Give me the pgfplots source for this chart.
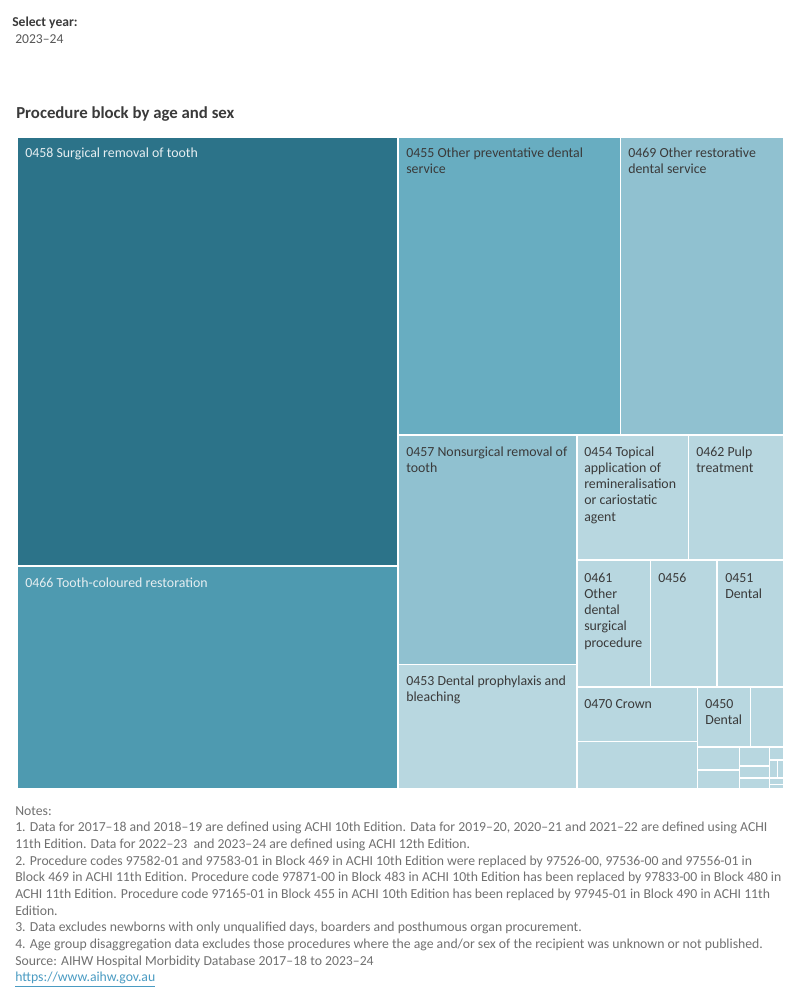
\documentclass[border=0pt]{standalone}
\usepackage{pgfplots}
\pgfplotsset{compat=1.18}
\usepackage{fontspec}
\setmainfont{Carlito}

\definecolor{tealA}{HTML}{2C7389}
\definecolor{tealB}{HTML}{4E9AB0}
\definecolor{tealC}{HTML}{68ADC1}
\definecolor{tealD}{HTML}{90C1D0}
\definecolor{tealE}{HTML}{B8D7E0}
\definecolor{labdark}{HTML}{3A3A3A}
\definecolor{lablight}{HTML}{E6EEF1}
\definecolor{notegrey}{HTML}{707070}
\definecolor{linkblue}{HTML}{4A9BC2}

% one treemap tile: x0, y0, x1, y1, fill colour
\newcommand{\tile}[5]{%
  \addplot[fill=#5, draw=white, line width=1.1pt] coordinates {(#1,#2) (#3,#2) (#3,#4) (#1,#4)} -- cycle;}
\newcommand{\boxfont}{\fontsize{10.4pt}{12.2pt}\selectfont}
% multi-line label whose baseline is that of its first line
\newcommand{\lab}[1]{\begin{tabular}[t]{@{}l@{}}#1\end{tabular}}

\begin{document}
\begin{tikzpicture}[x=0.75pt,y=-0.75pt]
\path (0,0) rectangle (800,1000);

\node[anchor=base west, inner sep=0, text=labdark, font=\fontsize{10.2pt}{12pt}\selectfont\bfseries] at (12,26) {Select year:};
\node[anchor=base west, inner sep=0, text=labdark!85, font=\fontsize{10.2pt}{12pt}\selectfont] at (15,43) {2023–24};
\node[anchor=base west, inner sep=0, text=labdark, font=\fontsize{12.6pt}{15pt}\selectfont\bfseries] at (16,118) {Procedure block by age and sex};

\begin{axis}[
  at={(12.75pt,-102.75pt)}, anchor=north west,
  width=575.25pt, height=489pt, scale only axis,
  xmin=17, xmax=784, ymin=137, ymax=789, y dir=reverse,
  hide axis, clip=false]
\tile{17}{137}{398}{566}{tealA}
\tile{17}{566}{398}{789}{tealB}
\tile{398}{137}{620.5}{435}{tealC}
\tile{620.5}{137}{784}{435}{tealD}
\tile{398}{435}{577}{664.5}{tealD}
\tile{398}{664.5}{577}{789}{tealE}
\tile{577}{435}{688.5}{560}{tealE}
\tile{688.5}{435}{784}{560}{tealE}
\tile{577}{560}{650.5}{687}{tealE}
\tile{650.5}{560}{717}{687}{tealE}
\tile{717}{560}{784}{687}{tealE}
\tile{577}{687}{697.5}{741.5}{tealE}
\tile{577}{741.5}{697.5}{789}{tealE}
\tile{697.5}{687}{750.5}{747}{tealE}
\tile{750.5}{687}{784}{747}{tealE}
\tile{697.5}{747}{739.5}{770}{tealE}
\tile{697.5}{770}{739.5}{789}{tealE}
\tile{739.5}{747}{769.5}{766}{tealE}
\tile{739.5}{766}{769.5}{778}{tealE}
\tile{739.5}{778}{769.5}{789}{tealE}
\tile{769.5}{747}{784}{760}{tealE}
\tile{769.5}{760}{777.5}{778}{tealE}
\tile{777.5}{760}{784}{778}{tealE}
\tile{769.5}{778}{784}{784.5}{tealE}
\tile{769.5}{784.5}{784}{789}{tealE}

\begin{scope}[every node/.style={anchor=base west, inner sep=0, font=\boxfont, text=labdark}]
\node[text=lablight] at (axis cs:25,157) {0458 Surgical removal of tooth};
\node[text=lablight] at (axis cs:25,587) {0466 Tooth-coloured restoration};
\node at (axis cs:406,157) {\lab{0455 Other preventative dental\\service}};
\node at (axis cs:628,157) {\lab{0469 Other restorative\\dental service}};
\node at (axis cs:406,456) {\lab{0457 Nonsurgical removal of\\tooth}};
\node at (axis cs:584,456) {\lab{0454 Topical\\application of\\remineralisation\\or cariostatic\\agent}};
\node at (axis cs:696,456) {\lab{0462 Pulp\\treatment}};
\node at (axis cs:406,685) {\lab{0453 Dental prophylaxis and\\bleaching}};
\node at (axis cs:584,582) {\lab{0461\\Other\\dental\\surgical\\procedure}};
\node at (axis cs:658,582) {0456};
\node at (axis cs:725,582) {\lab{0451\\Dental}};
\node at (axis cs:584,708) {0470 Crown};
\node at (axis cs:705,708) {\lab{0450\\Dental}};
\end{scope}
\end{axis}

\node[anchor=base west, inner sep=0, text=notegrey, font=\fontsize{10.3pt}{12.5pt}\selectfont] at (15,815) {\lab{Notes:\\
1. Data for 2017–18 and 2018–19 are defined using ACHI 10th Edition. Data for 2019–20, 2020–21 and 2021–22 are defined using ACHI\\
11th Edition. Data for 2022–23 \ and 2023–24 are defined using ACHI 12th Edition.\\
2. Procedure codes 97582-01 and 97583-01 in Block 469 in ACHI 10th Edition were replaced by 97526-00, 97536-00 and 97556-01 in\\
Block 469 in ACHI 11th Edition. Procedure code 97871-00 in Block 483 in ACHI 10th Edition has been replaced by 97833-00 in Block 480 in\\
ACHI 11th Edition. Procedure code 97165-01 in Block 455 in ACHI 10th Edition has been replaced by 97945-01 in Block 490 in ACHI 11th\\
Edition.\\
3. Data excludes newborns with only unqualified days, boarders and posthumous organ procurement.\\
4. Age group disaggregation data excludes those procedures where the age and/or sex of the recipient was unknown or not published.\\
Source: AIHW Hospital Morbidity Database 2017–18 to 2023–24\\
\textcolor{linkblue}{\underline{https://www.aihw.gov.au}}}};
\end{tikzpicture}
\end{document}
